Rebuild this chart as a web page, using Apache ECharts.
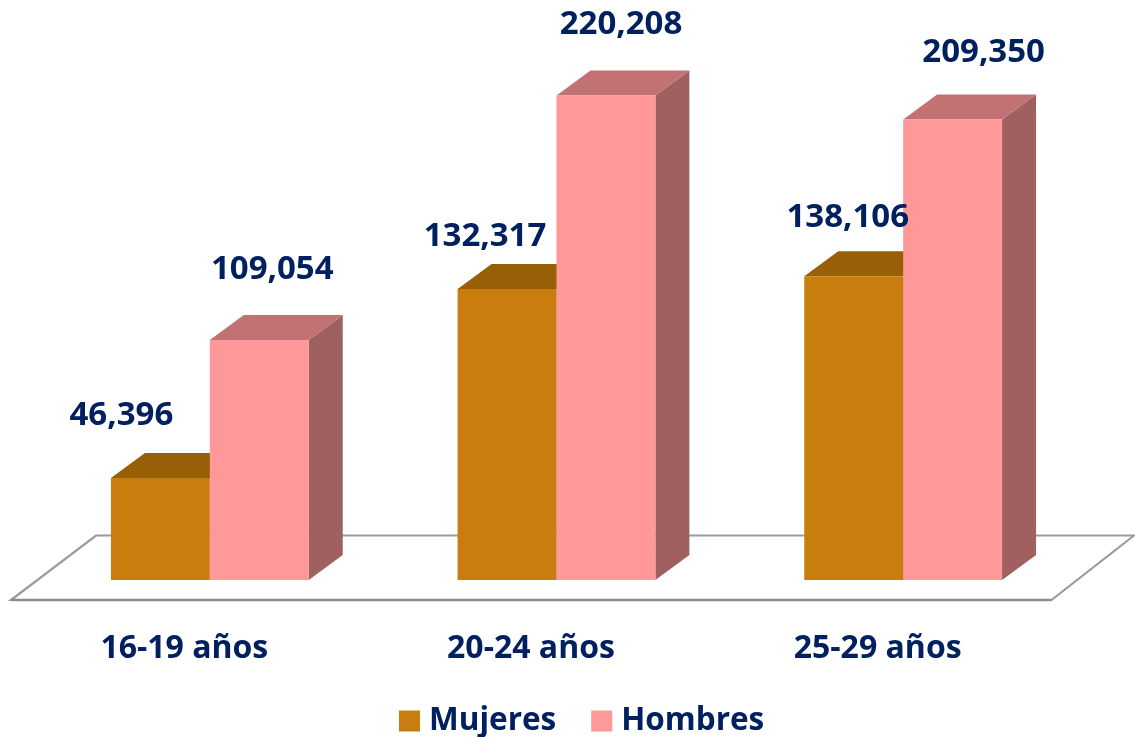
<!DOCTYPE html>
<html><head><meta charset="utf-8">
<style>html,body{margin:0;padding:0;background:#fff}#c{width:1135px;height:737px}</style>
<script src="https://cdn.jsdelivr.net/npm/echarts@6/dist/echarts.min.js"></script>
</head><body><div id="c"></div>
<script>
const categories = ['16-19 años', '20-24 años', '25-29 años'];
const mujeres = [46396, 132317, 138106];
const hombres = [109054, 220208, 209350];
const mujeresLabelOffset = [[-39, -62], [-22, -52], [-6, -59]];
const hombresLabelOffset = [[13, -70], [15, -71], [31, -67]];
const FONT = '"Open Sans", sans-serif';
const NAVY = '#002060';
const DEPTH_X = 34, DEPTH_Y = 25;

function fmt(v){ return v.toLocaleString('en-US'); }

function bar3d(side, front, top, right, offsets){
  return function(params, api){
    const i = params.dataIndex;
    const v = api.value(1);
    const base = api.coord([i, 0]);
    const head = api.coord([i, v]);
    const w = api.size([1, 0])[0] * 0.2853;
    const x0 = side < 0 ? base[0] - w : base[0];
    const x1 = x0 + w;
    const yb = base[1], yt = head[1];
    const poly = (pts, fill) => ({type:'polygon', shape:{points:pts}, style:{fill:fill, stroke:null}});
    const off = offsets[i];
    return {type:'group', children:[
      poly([[x1,yb],[x1+DEPTH_X,yb-DEPTH_Y],[x1+DEPTH_X,yt-DEPTH_Y],[x1,yt]], right),
      poly([[x0,yt],[x0+DEPTH_X,yt-DEPTH_Y],[x1+DEPTH_X,yt-DEPTH_Y],[x1,yt]], top),
      poly([[x0,yb],[x1,yb],[x1,yt],[x0,yt]], front),
      {type:'text', z2:100, x:(x0+x1)/2+off[0], y:yt+off[1],
       style:{text:fmt(v), fill:NAVY, font:'bold 33px '+FONT, align:'center', verticalAlign:'middle'}}
    ]};
  };
}

const chart = echarts.init(document.getElementById('c'), null, {renderer:'canvas'});
chart.setOption({
  animation:false,
  backgroundColor:'#fff',
  grid:{left:36.5, right:58.5, top:30, bottom:157, containLabel:false},
  xAxis:{type:'category', data:categories, axisLine:{show:false}, axisTick:{show:false},
    axisLabel:{color:NAVY, fontFamily:FONT, fontWeight:'bold', fontSize:32, margin:53, padding:[0,51,0,0]}, splitLine:{show:false}},
  yAxis:{type:'value', min:0, max:250000, show:false, splitLine:{show:false}},
  legend:{left:394, top:700, itemWidth:21, itemHeight:21, itemGap:35, icon:'rect',
    data:['Mujeres','Hombres'], textStyle:{color:NAVY, fontFamily:FONT, fontWeight:'bold', fontSize:31.5, padding:[0,0,0,4]}},
  graphic:[
    {type:'polygon', z:0, shape:{points:[[96,535.5],[1134,535.5],[1051.5,600],[11,600]]},
      style:{fill:'#fff', stroke:'#9a9a9a', lineWidth:2.2}},
    {type:'line', z:1, shape:{x1:11,y1:600,x2:1051.5,y2:600}, style:{stroke:'#8c8c8c', lineWidth:2.6}}
  ],
  series:[
    {name:'Mujeres', type:'custom', z:2, clip:false, encode:{x:0,y:1}, itemStyle:{color:'#C87D0E'},
     data:mujeres.map((v,i)=>[i,v]), renderItem:bar3d(-1,'#C87D0E','#985F06','#985F06',mujeresLabelOffset)},
    {name:'Hombres', type:'custom', z:2, clip:false, encode:{x:0,y:1}, itemStyle:{color:'#FF9999'},
     data:hombres.map((v,i)=>[i,v]), renderItem:bar3d(1,'#FF9999','#C27272','#A06060',hombresLabelOffset)}
  ]
});
</script></body></html>
